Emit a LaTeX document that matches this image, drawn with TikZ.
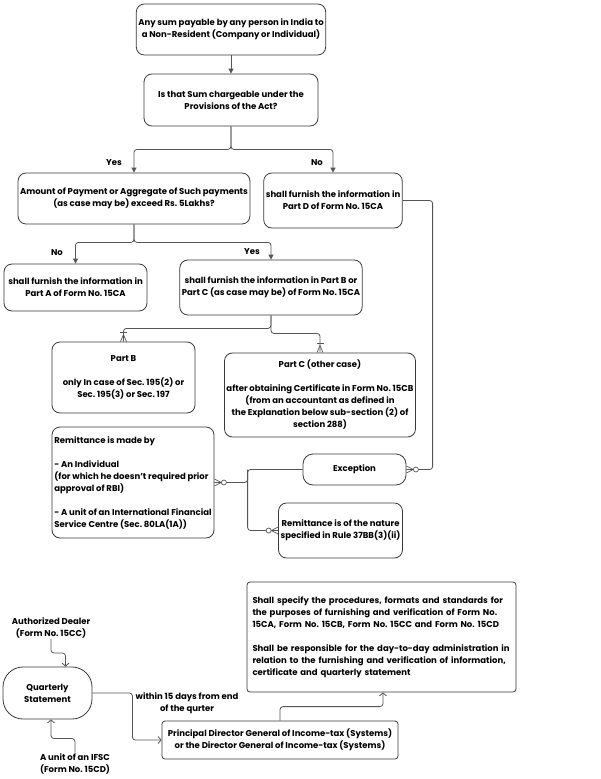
\documentclass[tikz,border=0pt]{standalone}
\usepackage{fontspec}
\setmainfont{Poppins}
\frenchspacing
\usetikzlibrary{calc,arrows.meta}
\definecolor{lineGray}{HTML}{555555}
\definecolor{boxGray}{HTML}{3A3A3A}
\tikzstyle{box}=[
    draw=boxGray,line width=0.8pt,rounded corners=8pt,align=center,
    font=\fontsize{8.5}{12}\selectfont\bfseries,inner sep=2pt
    ]
\tikzstyle{sbox}=[box,rounded corners=3pt]
\tikzstyle{plain}=[align=center,font=\fontsize{8.5}{12}\selectfont\bfseries,inner sep=1pt]
\tikzstyle{flow}=[draw=lineGray,line width=0.8pt,rounded corners=3pt,
    -{Triangle[length=5pt,width=5pt]}]
\tikzstyle{feed}=[draw=lineGray,line width=0.8pt,rounded corners=3pt,
    -{Straight Barb[length=3pt,width=7pt]}]
\tikzstyle{rel}=[draw=lineGray,line width=0.8pt,rounded corners=3pt]
% one and many: bar and crow's foot, #1 at the box edge, #2 the way the line leaves
\newcommand{\oneMany}[2]{
\begin{scope}[shift={(#1)},rotate=#2,draw=lineGray,line width=0.7pt]
 \draw (0pt,-3pt) -- (7pt,0pt) -- (0pt,3pt);
 \draw (9pt,-3.5pt) -- (9pt,3.5pt);
\end{scope}
}
% zero or many: circle and crow's foot
\newcommand{\zeroMany}[2]{
\begin{scope}[shift={(#1)},rotate=#2,draw=lineGray,line width=0.7pt]
 \draw (0pt,-3.5pt) -- (7pt,0pt) -- (0pt,3.5pt);
 \draw[fill=white] (9.5pt,0pt) circle (2.5pt);
\end{scope}
}

\begin{document}
\begin{tikzpicture}[x=1pt,y=-1pt]
\useasboundingbox (0,0) rectangle (600,779);
%decision part
\node[box,minimum width=174pt,minimum height=51pt] (sum) at (231,29.5)
 {Any sum payable by any person in India to\\a Non-Resident (Company or Individual)};
\node[box,minimum width=174pt,minimum height=52pt] (charge) at (231,100)
 {Is that Sum chargeable under the\\Provisions of the Act?};
\node[box,minimum width=222pt,minimum height=51pt] (amount) at (134,198.5)
 {Amount of Payment or Aggregate of Such payments\\(as case may be) exceed Rs. 5Lakhs?};
\node[box,minimum width=134pt,minimum height=55pt] (partD) at (333,200.5)
 {shall furnish the information in\\Part D of Form No. 15CA};
\node[box,minimum width=143pt,minimum height=47pt] (partA) at (75.5,287.5)
 {shall furnish the information in\\Part A of Form No. 15CA};
\node[box,minimum width=174pt,minimum height=55pt] (partBC) at (271,287.5)
 {shall furnish the information in Part B or\\Part C (as case may be) of Form No. 15CA};
\node[box,minimum width=143pt,minimum height=71pt] (partB) at (123.5,377.5)
 {Part B\\[12pt]only In case of Sec. 195(2) or\\Sec. 195(3) or Sec. 197};
\node[box,minimum width=182pt,minimum height=84pt] (partC) at (320,395)
 {Part C (other case)\\[12pt]after obtaining Certificate in Form No. 15CB\\(from an accountant as defined in\\the Explanation below sub-section (2) of\\section 288)};
%exceptions
\node[box,align=left,minimum width=162pt,minimum height=111pt] (remitBy) at (133,482.5)
 {Remittance is made by\\[12pt]- An Individual\\(for which he doesn't required prior\\approval of RBI)\\[12pt]- A unit of an International Financial\\Service Centre (Sec. 80LA(1A))};
\node[box,rounded corners=10pt,minimum width=103pt,minimum height=31pt] (except) at (354.5,469.5)
 {Exception};
\node[box,minimum width=119pt,minimum height=55pt] (nature) at (340.5,530.5)
 {Remittance is of the nature\\specified in Rule 37BB(3)(ii)};
%quarterly statement
\node[sbox,align=left,text width=258pt,minimum width=269pt,minimum height=110pt] (duties) at (381.5,637)
 {Shall specify the procedures, formats and standards for\\the purposes of furnishing and verification of Form No.\\15CA, Form No. 15CB, Form No. 15CC and Form No. 15CD\\[12pt]Shall be responsible for the day-to-day administration in\\relation to the furnishing and verification of information,\\certificate and quarterly statement};
\node[box,rounded corners=20pt,minimum width=89pt,minimum height=52pt] (quarter) at (47.5,693)
 {Quarterly\\Statement};
\node[sbox,minimum width=236pt,minimum height=38pt] (pdg) at (280,740)
 {Principal Director General of Income-tax (Systems)\\or the Director General of Income-tax (Systems)};
\node[plain] (dealer) at (51,627.5) {Authorized Dealer\\(Form No. 15CC)};
\node[plain] (ifsc) at (75,764) {A unit of an IFSC\\(Form No. 15CD)};
\node[plain] (within) at (187,703) {within 15 days from end\\of the qurter};
%labels
\node[plain] (yes1) at (114,163) {Yes};
\node[plain] (no1) at (317,163) {No};
\node[plain] (no2) at (57,253) {No};
\node[plain] (yes2) at (252,252) {Yes};
%flow
\path[flow] (sum) -- (charge);
\path[flow] (charge.south) -- ++(0,23) -| (amount.north);
\path[flow] (charge.south) -- ++(0,23) -| (partD.north);
\path[flow] (amount.south) -- ++(0,18) -| (partA.north);
\path[flow] (amount.south) -- ++(0,18) -| (partBC.north);
\path[rel] (partBC.south) -- ++(0,13) -| (partB.north);
\path[rel] (partBC.south) -- ++(0,18) -| (partC.north);
\oneMany{partB.north}{90}
\oneMany{partC.north}{90}
\path[rel] (partD.east) -- ++(30,0) |- (except.east);
\zeroMany{except.east}{0}
\path[rel] (except.west) -- ++(-55,0) |- (nature.west);
\path[rel] ($(except.west)+(-55,0)$) |- (remitBy.east);
\zeroMany{remitBy.east}{0}
\zeroMany{nature.west}{180}
%statement
\path[feed] (dealer.south) -- ++(0,14) -| ($(quarter.north)+(18,0)$);
\path[feed] (ifsc.north) -- ++(0,-14) -| ($(quarter.south)+(3.5,0)$);
\path[feed] (quarter.east) -- ++(40,0) |- (pdg.west);
\path[feed] (pdg.north) -- ++(0,-14) -| ($(duties.south)+(1.5,0)$);
\end{tikzpicture}
\end{document}
